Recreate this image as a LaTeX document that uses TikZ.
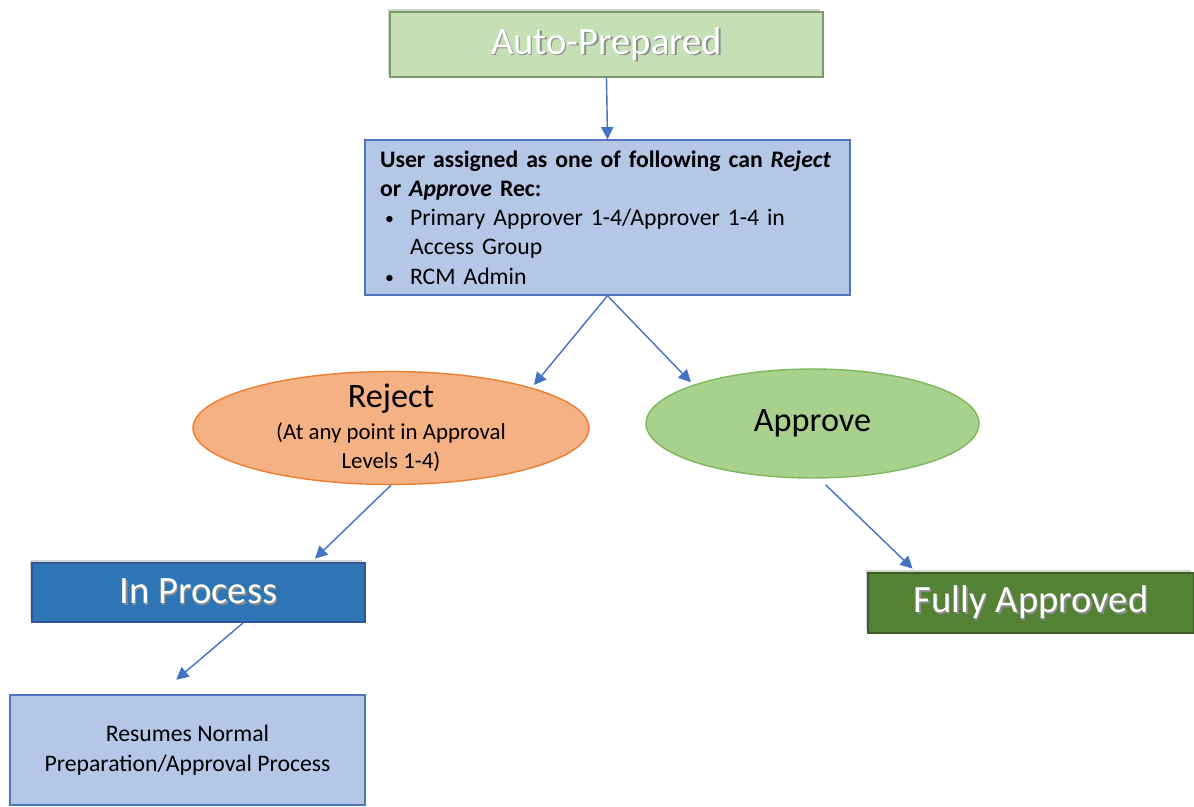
\documentclass[tikz,border=0pt]{standalone}
\usepackage{fontspec}
\setmainfont{Carlito}
\usetikzlibrary{shapes.geometric,arrows.meta,shadows}
\definecolor{autofill}{HTML}{C5E0B4}
\definecolor{autodraw}{HTML}{7A9A6A}
\definecolor{recfill}{HTML}{B4C7E7}
\definecolor{recdraw}{HTML}{4F75BC}
\definecolor{rejfill}{HTML}{F4B183}
\definecolor{rejdraw}{HTML}{ED7D31}
\definecolor{appfill}{HTML}{A9D18E}
\definecolor{appdraw}{HTML}{7DB85A}
\definecolor{procfill}{HTML}{2E75B6}
\definecolor{procdraw}{HTML}{2F5597}
\definecolor{fullfill}{HTML}{548235}
\definecolor{fulldraw}{HTML}{3B5E25}
\definecolor{arrowblue}{HTML}{4472C4}
% white text with a grey shadow under it
\newcommand{\glowtext}[1]{\makebox[0pt][l]{\hspace{0.9pt}\raisebox{-0.9pt}{\color{black!45}#1}}#1}
% small list bullet
\newcommand{\recbullet}{\makebox[0.6cm][l]{\hspace{0.1cm}\raisebox{0.6pt}{\scalebox{0.75}{\textbullet}}}}
\begin{document}
\begin{tikzpicture}[x=0.02cm,y=-0.02cm,
    statebox/.style={rectangle, minimum width=#1, minimum height=1.2cm, inner sep=0pt,
        text=white, font=\fontsize{22}{26}\selectfont,
        drop shadow={shadow xshift=-0.05cm, shadow yshift=0.06cm, opacity=0.35}},
    infobox/.style={rectangle, draw=recdraw, fill=recfill, line width=0.8pt, inner sep=0pt},
    choice/.style={ellipse, line width=0.8pt, inner sep=0pt},
    arr/.style={-{Triangle[length=7pt,width=7pt]}, draw=arrowblue, fill=arrowblue, line width=0.8pt}]

    \useasboundingbox (0,0) rectangle (1194,806);

    % Startzustand
    \node[statebox=8.66cm, minimum height=1.3cm, draw=autodraw, fill=autofill, line width=0.8pt]
        (auto) at (606.5,44.5) {\glowtext{Auto-Prepared}};

    % wer darf freigeben
    \node[infobox, minimum width=9.7cm, minimum height=3.1cm, text width=9.1cm, align=left,
        font=\fontsize{13.5}{16.6}\selectfont] (user) at (607.5,217.5)
        {\textbf{User assigned as one of following can \textit{Reject}}\\
         \textbf{or \textit{Approve} Rec:}\\
         \recbullet Primary Approver 1-4/Approver 1-4 in\\
         \hspace*{0.6cm}Access Group\\
         \recbullet RCM Admin};
    \draw[arr] (auto.south) -- (user.north);

    % Entscheidung
    \node[choice, draw=rejdraw, fill=rejfill, minimum width=7.92cm, minimum height=2.26cm,
        inner ysep=-12pt, align=center, font=\fontsize{13}{16.5}\selectfont] (reject) at (391,428)
        {{\fontsize{19.5}{24}\selectfont Reject}\\[2pt]
         (At any point in Approval\\
         Levels 1-4)};
    \node[choice, draw=appdraw, fill=appfill, minimum width=6.66cm, minimum height=2.18cm,
        font=\fontsize{19.5}{24}\selectfont] (approve) at (812.5,423.5) {Approve};
    \draw[arr, shorten >=2pt] (user.south) -- (reject.16);
    \draw[arr, shorten >=2pt] (user.south) -- (approve.162);

    % Ablehnen
    \node[statebox=6.66cm, minimum height=1.18cm, draw=procdraw, fill=procfill, line width=0.8pt]
        (inproc) at (198.5,592.5) {\glowtext{In Process}};
    \draw[arr, shorten >=3pt] (reject.south) -- (inproc.15);

    \node[infobox, minimum width=7.1cm, minimum height=2.2cm, align=center,
        font=\fontsize{13.5}{17}\selectfont] (resume) at (187.5,750)
        {Resumes Normal\\Preparation/Approval Process};
    \draw[arr, shorten >=0.45cm] (inproc.-34) -- (resume.117);

    % Freigeben
    \node[statebox=6.52cm, draw=fulldraw, fill=fullfill, line width=0.8pt]
        (fully) at (1031,603) {\glowtext{Fully Approved}};
    \draw[arr, shorten <=5pt, shorten >=3pt] (approve.-83) -- (fully.165);

\end{tikzpicture}
\end{document}
